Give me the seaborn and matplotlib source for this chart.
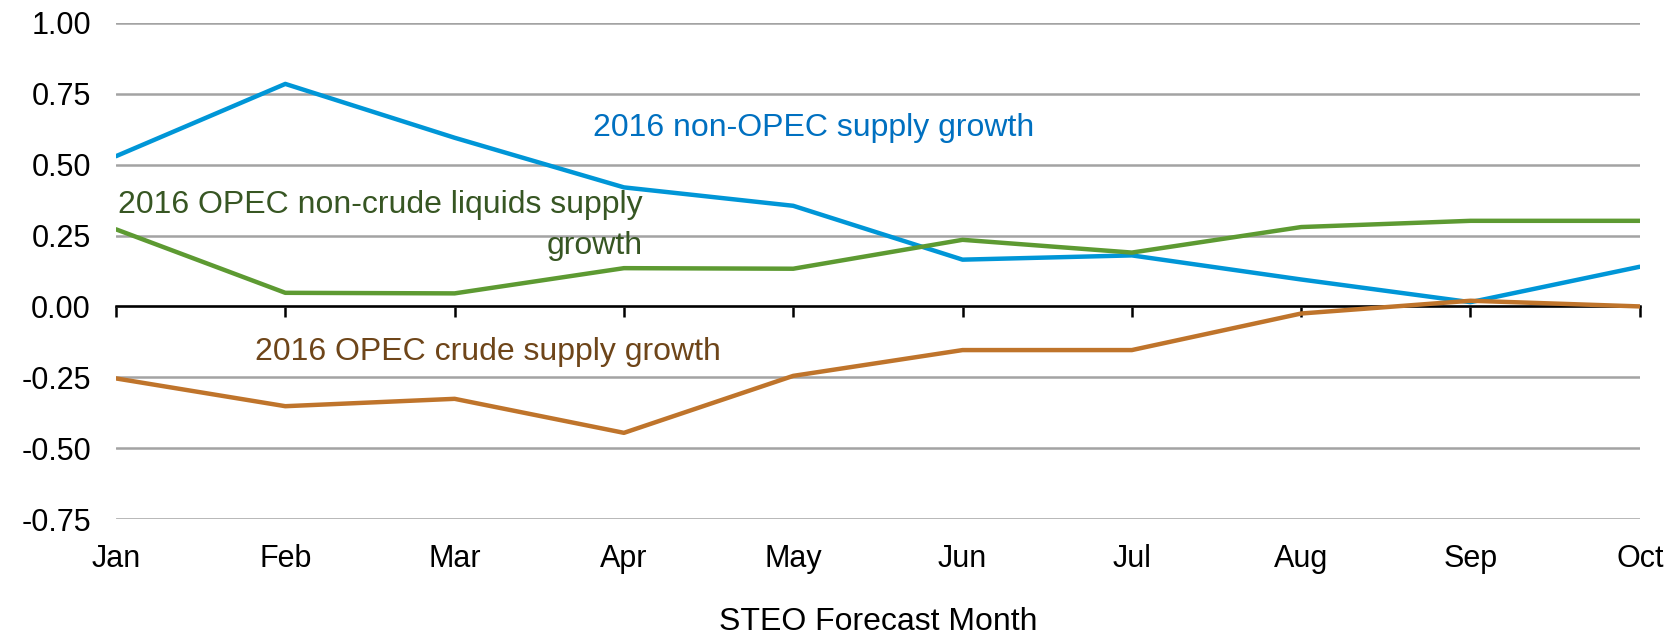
import pandas as pd
import matplotlib
matplotlib.use("Agg")
import matplotlib.pyplot as plt
import seaborn as sns

# Data
months = ["Jan", "Feb", "Mar", "Apr", "May", "Jun", "Jul", "Aug", "Sep", "Oct"]
non_opec = [0.53, 0.785, 0.595, 0.42, 0.355, 0.165, 0.18, 0.095, 0.015, 0.14]
opec_noncrude = [0.272, 0.048, 0.046, 0.135, 0.133, 0.235, 0.19, 0.28, 0.302, 0.302]
opec_crude = [-0.254, -0.352, -0.326, -0.446, -0.245, -0.154, -0.154, -0.025, 0.02, 0.0]
y_ticks = [-0.75, -0.50, -0.25, 0.00, 0.25, 0.50, 0.75, 1.00]

df = pd.DataFrame({
    "month": months * 3,
    "value": non_opec + opec_noncrude + opec_crude,
    "series": (["non-OPEC"] * 10 + ["OPEC non-crude"] * 10 + ["OPEC crude"] * 10),
})
df["pos"] = list(range(10)) * 3

sns.set_style("white")
plt.rcParams["font.family"] = ["Liberation Sans", "DejaVu Sans"]
plt.rcParams["text.color"] = "black"
plt.rcParams["xtick.color"] = "black"
plt.rcParams["ytick.color"] = "black"
plt.rcParams["axes.labelcolor"] = "black"

fig = plt.figure(figsize=(16.69, 6.38), dpi=100)
ax = fig.add_axes([0.0695, 0.1865, 0.913, 0.7775])

palette = {"non-OPEC": "#0096D7", "OPEC non-crude": "#5D9A32", "OPEC crude": "#BF742B"}
sns.lineplot(data=df, x="pos", y="value", hue="series", palette=palette,
             linewidth=3.2, ax=ax, legend=False, zorder=3)

ax.set_xlim(0, 9)
ax.set_ylim(-0.75, 1.0)
ax.set_yticks(y_ticks)
ax.set_yticklabels([f"{t:.2f}" for t in y_ticks])
ax.yaxis.grid(True, color="#A3A3A3", linewidth=1.8)
ax.set_axisbelow(True)
for s in ["top", "right", "left"]:
    ax.spines[s].set_visible(False)
ax.tick_params(axis="y", left=False, length=0, labelsize=22, pad=18)

# x axis line at zero with tick marks, labels at the bottom
ax.spines["bottom"].set_position(("data", 0))
ax.spines["bottom"].set_color("black")
ax.spines["bottom"].set_linewidth(1.8)
ax.set_xticks(range(10))
ax.tick_params(axis="x", bottom=True, direction="out", length=8, width=1.8,
               color="black", labelbottom=False)
sec = ax.secondary_xaxis(location=0)
sec.set_xticks(range(10))
sec.set_xticklabels(months)
sec.spines["bottom"].set_visible(False)
sec.tick_params(length=0, labelsize=22, pad=18)
sec.set_xlabel("STEO Forecast Month", fontsize=23, labelpad=24)

ax.set_xlabel("")
ax.set_ylabel("")

# Series labels
ax.text(2.82, 0.63, "2016 non-OPEC supply growth", color="#0070C0",
        fontsize=23, va="center", ha="left")
ax.text(3.11, 0.285, "2016 OPEC non-crude liquids supply\ngrowth", color="#375623",
        fontsize=23, va="center", ha="right", linespacing=1.45)
ax.text(0.82, -0.16, "2016 OPEC crude supply growth", color="#6E4519",
        fontsize=23, va="center", ha="left")

fig.savefig("out.png", dpi=100)
